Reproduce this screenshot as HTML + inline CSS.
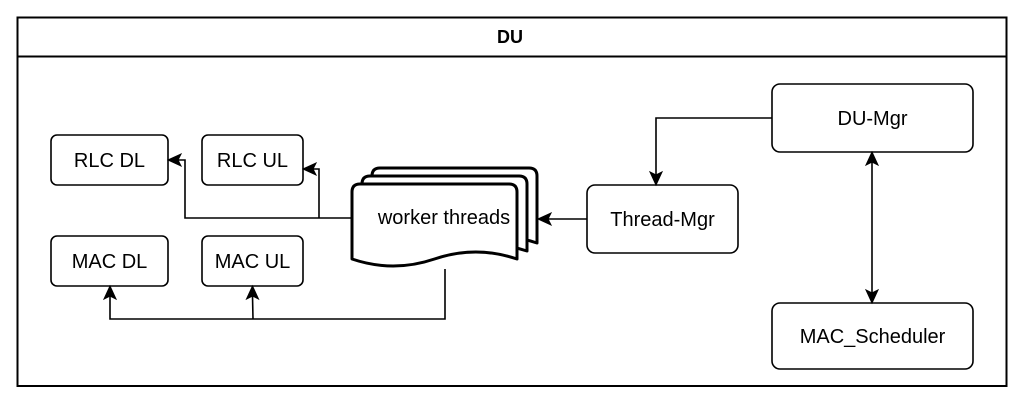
<!DOCTYPE html>
<html>
<head>
<meta charset="utf-8">
<style>
html,body{margin:0;padding:0;background:#fff;}
svg{display:block;}
text{font-family:"Liberation Sans",Arial,sans-serif;fill:#000;}
</style>
</head>
<body>
<svg width="1024" height="404" viewBox="0 0 1024 404" xmlns="http://www.w3.org/2000/svg">
  <rect x="0" y="0" width="1024" height="404" fill="#fff"/>
  <!-- outer container -->
  <rect x="17.5" y="17.5" width="989" height="368.5" fill="#fff" stroke="#000" stroke-width="2"/>
  <line x1="17.5" y1="56.5" x2="1006.5" y2="56.5" stroke="#000" stroke-width="2"/>
  <text x="510" y="43" font-size="18" font-weight="bold" text-anchor="middle">DU</text>

  <g fill="#fff" stroke="#000" stroke-width="1.6">
    <rect x="51" y="135" width="117" height="50" rx="6"/>
    <rect x="202" y="135" width="101" height="50" rx="6"/>
    <rect x="51" y="236" width="117" height="50" rx="6"/>
    <rect x="202" y="236" width="101" height="50" rx="6"/>
    <rect x="772" y="84" width="201" height="68" rx="8"/>
    <rect x="587" y="185" width="151" height="68" rx="8"/>
    <rect x="772" y="303" width="201" height="66" rx="8"/>
  </g>

  <g font-size="20" text-anchor="middle">
    <text x="109.5" y="167">RLC DL</text>
    <text x="252.5" y="167">RLC UL</text>
    <text x="109.5" y="268">MAC DL</text>
    <text x="252.5" y="268">MAC UL</text>
    <text x="872.5" y="125">DU-Mgr</text>
    <text x="662.5" y="226">Thread-Mgr</text>
    <text x="872.5" y="343">MAC_Scheduler</text>
  </g>

  <!-- worker threads stacked documents -->
  <g fill="#fff" stroke="#000" stroke-width="3" stroke-linejoin="round">
    <path d="M372,243 L372,176 Q372,168 380,168 L529,168 Q537,168 537,176 L537,243 Q495.75,229 454.5,243 Q413.25,257 372,243 Z"/>
    <path d="M362,251 L362,184 Q362,176 370,176 L519,176 Q527,176 527,184 L527,251 Q485.75,237 444.5,251 Q403.25,265 362,251 Z"/>
    <path d="M352,259 L352,192 Q352,184 360,184 L509,184 Q517,184 517,192 L517,259 Q475.75,245 434.5,259 Q393.25,273 352,259 Z"/>
  </g>
  <text x="444" y="224" font-size="20" text-anchor="middle">worker threads</text>

  <!-- connectors -->
  <g fill="none" stroke="#000" stroke-width="1.6">
    <polyline points="772,118 656,118 656,175"/>
    <line x1="872" y1="162" x2="872" y2="293"/>
    <line x1="587" y1="219" x2="548" y2="219"/>
    <polyline points="352,218 185,218 185,160 178,160"/>
    <polyline points="319,218 319,169 313,169"/>
    <polyline points="445,269 445,319 110,319 110,296"/>
    <line x1="253" y1="319" x2="252.5" y2="296"/>
  </g>

  <!-- arrowheads -->
  <g fill="#000" stroke="#000" stroke-width="1" stroke-linejoin="miter">
    <!-- down into Thread-Mgr -->
    <path d="M656,185 L650,172 L656,175 L662,172 Z"/>
    <!-- up into DU-Mgr -->
    <path d="M872,152 L866,165 L872,162 L878,165 Z"/>
    <!-- down into MAC_Scheduler -->
    <path d="M872,303 L866,290 L872,293 L878,290 Z"/>
    <!-- left into worker -->
    <path d="M538,219 L551,213 L548,219 L551,225 Z"/>
    <!-- left into RLC DL -->
    <path d="M168,160 L181,154 L178,160 L181,166 Z"/>
    <!-- left into RLC UL -->
    <path d="M303,169 L316,163 L313,169 L316,175 Z"/>
    <!-- up into MAC DL -->
    <path d="M110,286 L104,299 L110,296 L116,299 Z"/>
    <!-- up into MAC UL -->
    <path d="M252.5,286 L246.5,299 L252.5,296 L258.5,299 Z"/>
  </g>
</svg>
</body>
</html>
